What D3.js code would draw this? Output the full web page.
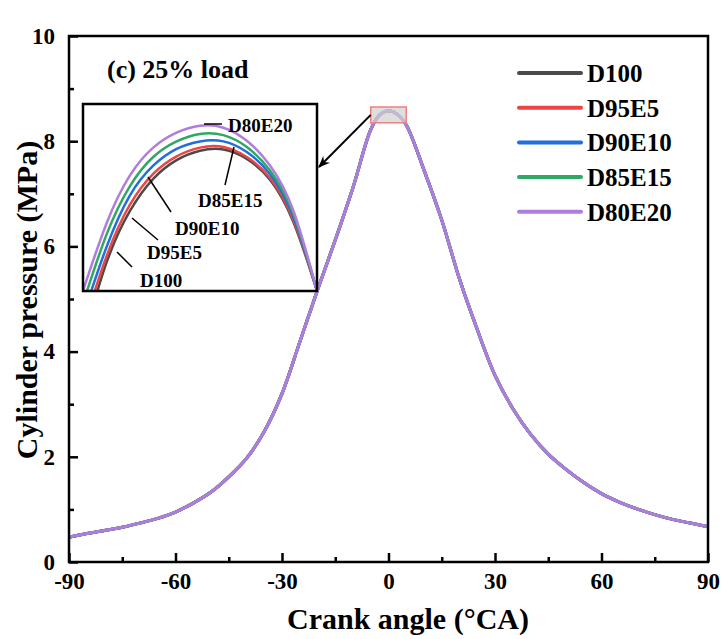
<!DOCTYPE html>
<html>
<head>
<meta charset="utf-8">
<script src="https://cdn.jsdelivr.net/npm/d3@7"></script>
<style>
  body{margin:0;background:#fff;}
  text{font-family:"Liberation Serif","Times New Roman",serif;font-weight:bold;fill:#000;}
</style>
</head>
<body>
<div id="chart"></div>
<script>
// series names and colours (legend order)
var fuels = ["D100", "D95E5", "D90E10", "D85E15", "D80E20"];
var fuelColors = ["#4b4b4b", "#ef4444", "#1f6fdc", "#2fa863", "#b07ddf"];

// main curve: at this scale the five fuels overlap, so they share one trace
var crankAngle = [-90,-85,-80,-75,-70,-65,-60,-55,-50,-45,-40,-35,-30,-25,-20,-15,-10,-5,-2.5,0,2.5,5,10,15,20,25,30,35,40,45,50,55,60,65,70,75,80,85,90];
var pressure   = [0.47,0.54,0.60,0.66,0.74,0.83,0.95,1.12,1.33,1.62,1.97,2.48,3.20,4.18,5.17,6.12,7.12,8.22,8.50,8.58,8.51,8.31,7.45,6.50,5.38,4.42,3.55,2.92,2.43,2.05,1.76,1.51,1.30,1.14,1.01,0.90,0.81,0.74,0.67];

var xTicks = [-90, -60, -30, 0, 30, 60, 90];
var xMinor = [-75, -45, -15, 15, 45, 75];
var yTicks = [0, 2, 4, 6, 8, 10];
var yMinor = [1, 3, 5, 7, 9];

// zoomed peak (inset)
var zoomAngle = [-5, 5];
var zoomPressure = [8.35, 8.65];
var insetAngle = [-5,-4,-3,-2,-1,0,1,2,3,4,5];
var insetD100   = [8.27,8.395,8.478,8.530,8.560,8.575,8.577,8.562,8.528,8.460,8.35];
var insetD95E5  = [8.29,8.405,8.488,8.538,8.566,8.580,8.581,8.565,8.531,8.463,8.35];
var insetD90E10 = [8.31,8.420,8.503,8.551,8.578,8.590,8.590,8.573,8.537,8.468,8.35];
var insetD85E15 = [8.33,8.440,8.518,8.565,8.590,8.602,8.600,8.581,8.543,8.473,8.35];
var insetD80E20 = [8.35,8.458,8.535,8.580,8.604,8.615,8.612,8.591,8.551,8.478,8.35];
var insetSeries = [insetD100, insetD95E5, insetD90E10, insetD85E15, insetD80E20];

var W = 721, H = 639;
var m = {top: 36, right: 13, bottom: 77, left: 69};

var svg = d3.select("#chart").append("svg")
            .attr("width", W)
            .attr("height", H);

var x = d3.scaleLinear().domain([-90, 90]).range([m.left, W - m.right]);
var y = d3.scaleLinear().domain([0, 10]).range([H - m.bottom, m.top]);

var defs = svg.append("defs");
defs.append("marker")
    .attr("id", "arrowHead")
    .attr("viewBox", "0 0 10 10")
    .attr("refX", 9).attr("refY", 5)
    .attr("markerWidth", 6).attr("markerHeight", 6)
    .attr("orient", "auto")
  .append("path")
    .attr("d", "M0,1 L10,5 L0,9 L3,5 Z")
    .attr("fill", "#000");

//curvas principales
var line = d3.line()
             .x(function(d){ return x(d[0]); })
             .y(function(d){ return y(d[1]); })
             .curve(d3.curveCatmullRom.alpha(0.5));

var mainPts = crankAngle.map(function(a, i){ return [a, pressure[i]]; });
fuels.forEach(function(f, i){
  svg.append("path")
     .datum(mainPts)
     .attr("d", line)
     .attr("fill", "none")
     .attr("stroke", fuelColors[i])
     .attr("stroke-width", 3);
});

//ejes con ticks hacia dentro
function styleAxis(g){
  g.select(".domain").remove();
  g.selectAll("line").attr("stroke", "#000").attr("stroke-width", 2.5);
  g.selectAll("text").attr("font-size", 23).attr("font-family", "Liberation Serif, serif").attr("font-weight", "bold");
}
var plainNum = function(d){ return String(d); };

svg.append("g")
   .attr("transform", "translate(0," + y(0) + ")")
   .call(d3.axisBottom(x).tickValues(xTicks).tickSizeInner(-9).tickSizeOuter(0).tickPadding(11).tickFormat(plainNum))
   .call(styleAxis);
svg.append("g")
   .attr("transform", "translate(0," + y(0) + ")")
   .call(d3.axisBottom(x).tickValues(xMinor).tickSizeInner(-5).tickSizeOuter(0).tickFormat(""))
   .call(styleAxis);
svg.append("g")
   .attr("transform", "translate(" + x(-90) + ",0)")
   .call(d3.axisLeft(y).tickValues(yTicks).tickSizeInner(-9).tickSizeOuter(0).tickPadding(14).tickFormat(plainNum))
   .call(styleAxis);
svg.append("g")
   .attr("transform", "translate(" + x(-90) + ",0)")
   .call(d3.axisLeft(y).tickValues(yMinor).tickSizeInner(-5).tickSizeOuter(0).tickFormat(""))
   .call(styleAxis);

//marco
svg.append("rect")
   .attr("x", x(-90)).attr("y", y(10))
   .attr("width", x(90) - x(-90)).attr("height", y(0) - y(10))
   .attr("fill", "none").attr("stroke", "#000").attr("stroke-width", 2.5);

//titulos de ejes
svg.append("text")
   .attr("x", 408).attr("y", 629)
   .attr("text-anchor", "middle")
   .attr("font-size", 30)
   .text("Crank angle (\u00B0CA)");
svg.append("text")
   .attr("transform", "translate(37," + ((y(0) + y(10)) / 2 + 1) + ") rotate(-90)")
   .attr("text-anchor", "middle")
   .attr("font-size", 30)
   .text("Cylinder pressure (MPa)");

svg.append("text")
   .attr("x", 107).attr("y", 78)
   .attr("font-size", 26)
   .text("(c) 25% load");

//leyenda
var legend = svg.append("g");
fuels.forEach(function(f, i){
  var ly = 73 + i * 34.7;
  legend.append("line")
        .attr("x1", 519).attr("x2", 581)
        .attr("y1", ly).attr("y2", ly)
        .attr("stroke", fuelColors[i])
        .attr("stroke-width", 4)
        .attr("stroke-linecap", "round");
  legend.append("text")
        .attr("x", 587).attr("y", ly + 9)
        .attr("font-size", 25)
        .text(f);
});

//recuadro del zoom sobre el pico
svg.append("rect")
   .attr("x", x(zoomAngle[0])).attr("y", y(zoomPressure[1]))
   .attr("width", x(zoomAngle[1]) - x(zoomAngle[0]))
   .attr("height", y(zoomPressure[0]) - y(zoomPressure[1]))
   .attr("fill", "#d0d0d0").attr("fill-opacity", 0.7)
   .attr("stroke", "#f08080").attr("stroke-width", 1.5);

//inset
var box = {x0: 83, y0: 104, x1: 317, y1: 291};
var xi = d3.scaleLinear().domain(zoomAngle).range([box.x0, box.x1]);
var yi = d3.scaleLinear().domain(zoomPressure).range([box.y1, box.y0]);

svg.append("line")
   .attr("x1", x(zoomAngle[0])).attr("y1", y(8.5))
   .attr("x2", box.x1 + 2).attr("y2", 167)
   .attr("stroke", "#000").attr("stroke-width", 2)
   .attr("marker-end", "url(#arrowHead)");

defs.append("clipPath").attr("id", "insetClip")
    .append("rect")
    .attr("x", box.x0).attr("y", box.y0)
    .attr("width", box.x1 - box.x0).attr("height", box.y1 - box.y0);

var inset = svg.append("g");
inset.append("rect")
     .attr("x", box.x0).attr("y", box.y0)
     .attr("width", box.x1 - box.x0).attr("height", box.y1 - box.y0)
     .attr("fill", "#fff");

var insetLine = d3.line()
                  .x(function(d){ return xi(d[0]); })
                  .y(function(d){ return yi(d[1]); })
                  .curve(d3.curveNatural);

var insetLines = inset.append("g").attr("clip-path", "url(#insetClip)");
insetSeries.forEach(function(s, i){
  insetLines.append("path")
            .datum(insetAngle.map(function(a, j){ return [a, s[j]]; }))
            .attr("d", insetLine)
            .attr("fill", "none")
            .attr("stroke", fuelColors[i])
            .attr("stroke-width", 2.5);
});

inset.append("rect")
     .attr("x", box.x0).attr("y", box.y0)
     .attr("width", box.x1 - box.x0).attr("height", box.y1 - box.y0)
     .attr("fill", "none").attr("stroke", "#000").attr("stroke-width", 2.5);

//etiquetas del inset con sus guias
var insetLabels = [
  {t: "D100",   tx: 140, ty: 287, l: [132, 267, 117, 252]},
  {t: "D95E5",  tx: 147, ty: 259, l: [158, 240, 132, 218]},
  {t: "D90E10", tx: 175, ty: 235, l: [171, 212, 148, 177]},
  {t: "D85E15", tx: 198, ty: 207, l: [225, 185, 234, 147]},
  {t: "D80E20", tx: 228, ty: 132, l: [222, 124, 204, 124]}
];
insetLabels.forEach(function(d){
  inset.append("line")
       .attr("x1", d.l[0]).attr("y1", d.l[1])
       .attr("x2", d.l[2]).attr("y2", d.l[3])
       .attr("stroke", "#000").attr("stroke-width", 1.5);
  inset.append("text")
       .attr("x", d.tx).attr("y", d.ty)
       .attr("font-size", 19)
       .text(d.t);
});
</script>
</body>
</html>
